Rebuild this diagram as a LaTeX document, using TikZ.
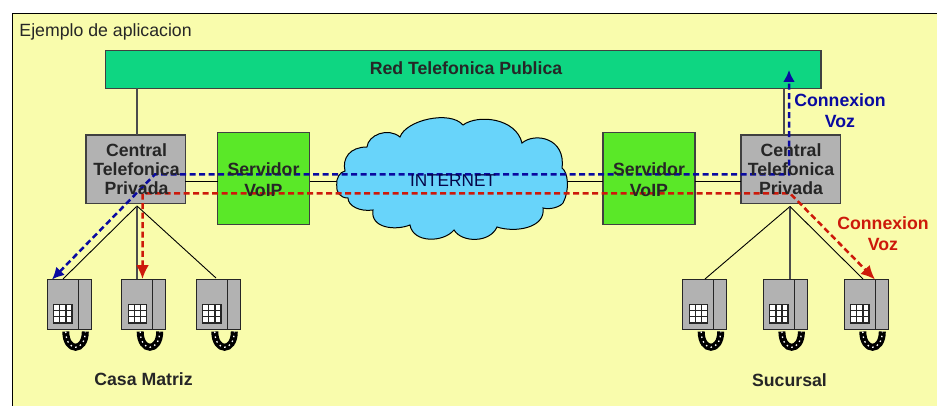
\documentclass[tikz,border=0pt]{standalone}
\usepackage{fontspec}
\setmainfont{Liberation Sans}
\usetikzlibrary{arrows.meta}
\definecolor{bgy}{RGB}{249,252,172}
\definecolor{greenbar}{RGB}{14,214,130}
\definecolor{srvgreen}{RGB}{90,232,40}
\definecolor{cloudc}{RGB}{104,212,250}
\definecolor{grayb}{RGB}{178,178,178}
\definecolor{vblue}{RGB}{10,10,160}
\definecolor{vred}{RGB}{205,25,10}
\tikzset{
  x=1pt,y=-1pt,
  every node/.style={inner sep=0pt,outer sep=0pt},
  labeltext/.style={font=\fontsize{17.7}{18.7}\selectfont\bfseries,align=center,text=black!85},
  boxstyle/.style={draw=black!75,line width=1.1pt,anchor=north west,labeltext},
  grayline/.style={draw=black!70,line width=1.2pt},
  thinline/.style={draw=black,line width=0.9pt},
  voicepath/.style={line width=2.5pt,dash pattern=on 6pt off 3.5pt},
  bluepath/.style={voicepath,draw=vblue,{Latex[length=12pt,width=12pt]}-{Latex[length=12pt,width=12pt]}},
  redpath/.style={voicepath,draw=vred,{Latex[length=14pt,width=13pt]}-{Latex[length=14pt,width=13pt]}},
  phone/.pic={
    \draw[line width=7pt,black] (18.5,52) .. controls (18.5,73) and (38,73) .. (38,52);
    \draw[white,line width=1.3pt,dash pattern=on 1.5pt off 3.5pt] (18.5,52) .. controls (18.5,73) and (38,73) .. (38,52);
    \fill[grayb,draw=black!85,line width=1pt] (0,0) rectangle (44,50);
    \draw[black!85,line width=1pt] (31,0) -- (31,50);
    \fill[black!85] (6,24.5) rectangle (25.5,44);
    \foreach \a in {0,1,2} \foreach \b in {0,1,2}
      \fill[white] ({7+\a*6.1},{25.5+\b*6.1}) rectangle ({11.8+\a*6.1},{30.3+\b*6.1});
  }
}
\begin{document}
\begin{tikzpicture}
\useasboundingbox (0,0) rectangle (937,406);
\fill[white] (0,0) rectangle (937,406);
\fill[bgy] (12,13) rectangle (937,406);
\draw[black,line width=1.1pt] (12.3,406) -- (12.3,13.5) -- (937,13.5);
\node[anchor=west,font=\fontsize{17.7}{20}\selectfont,text=black!85] (title) at (19.5,31.5) {Ejemplo de aplicacion};

\coordinate (hubL) at (137,206);
\coordinate (hubR) at (790,206.5);
\coordinate (pL1) at (63,279);
\coordinate (pL2) at (137,279);
\coordinate (pL3) at (216,278);
\coordinate (pR1) at (705,279);
\coordinate (pR2) at (790,279);
\coordinate (pR3) at (863,279);

\node[boxstyle,fill=greenbar,minimum width=715.5pt,minimum height=37.5pt] (bar) at (105.5,50.8) {};
\node[labeltext] (barlabel) at (466,68) {Red Telefonica Publica};
\node[boxstyle,fill=grayb,minimum width=99.3pt,minimum height=68.3pt] (cL) at (86,135) {};
\node[boxstyle,fill=grayb,minimum width=99.3pt,minimum height=68.3pt] (cR) at (741,135) {};
\node[boxstyle,fill=srvgreen,minimum width=92pt,minimum height=92pt] (sL) at (217.7,132.8) {};
\node[boxstyle,fill=srvgreen,minimum width=92pt,minimum height=92pt] (sR) at (603,132.8) {};

\draw[grayline] (cL.north -| 137,0) -- (bar.south -| 137,0);
\draw[grayline] (cR.north -| 784,0) -- (bar.south -| 784,0);
\draw[thinline] (cL.east |- 0,181) -- (sL.west |- 0,181);
\draw[thinline] (cR.west |- 0,181) -- (sR.east |- 0,181);
\draw[thinline] (sL.east |- 0,181) -- (340,181);
\draw[thinline] (sR.west |- 0,181) -- (565,181);

% cloud
\path[draw=black,line width=1pt,fill=cloudc] (336.7,185)
 .. controls (336,178) and (340,172) .. (345,171)
 .. controls (342,158) and (350,147) .. (367,147)
 .. controls (368,135) and (388,127) .. (400,137)
 .. controls (406,120) and (450,110) .. (463,125)
 .. controls (478,114) and (516,118) .. (522,143)
 .. controls (535,132) and (566,138) .. (562,168)
 .. controls (568,172) and (570,190) .. (563,203)
 .. controls (560,207) and (550,210) .. (543,208)
 .. controls (546,228) and (515,233) .. (497,227)
 .. controls (490,243) and (462,243) .. (454,230)
 .. controls (443,243) and (413,243) .. (410,225)
 .. controls (395,231) and (370,228) .. (373,210)
 .. controls (360,212) and (348,206) .. (348,198)
 .. controls (340,198) and (336,192) .. (336.7,185) -- cycle;

% phones
\path (47.3,279.5) pic {phone};
\path (121.7,279.5) pic {phone};
\path (196.3,279.5) pic {phone};
\path (682.7,279.5) pic {phone};
\path (763.4,279.5) pic {phone};
\path (844.3,279.5) pic {phone};

\draw[thinline] (hubL) -- (pL1);
\draw[grayline] (hubL) -- (pL2);
\draw[thinline] (hubL) -- (pL3);
\draw[thinline] (hubR) -- (pR1);
\draw[grayline] (hubR) -- (pR2);
\draw[thinline] (hubR) -- (pR3);

% voice paths
\coordinate (blueEnd) at (52,279.5);
\coordinate (blueBend) at (155,174.3);
\coordinate (blueCorner) at (789,174.3);
\coordinate (blueTop) at (789,70);
\coordinate (redEnd) at (142.5,279);
\coordinate (redBend) at (142.5,193.3);
\coordinate (redCorner) at (790,193.3);
\coordinate (redTip) at (875,279.5);
\draw[bluepath] (blueEnd) -- (blueBend) -- (blueCorner) -- (blueTop);
\draw[redpath] (redEnd) -- (redBend) -- (redCorner) -- (redTip);

\node[font=\fontsize{17.2}{19}\selectfont,text=vblue!45!black] (inet) at (453,180.5) {INTERNET};
\node[labeltext] (cLa) at (136.5,169) {Central\\Telefonica\\Privada};
\node[labeltext] (cRa) at (791,169) {Central\\Telefonica\\Privada};
\node[labeltext] (sLa) at (263.5,180) {Servidor\\[2.3pt]VoIP};
\node[labeltext] (sRa) at (649,180) {Servidor\\[2.3pt]VoIP};

\node[labeltext,text=vblue] (cvb) at (840,110.5) {Connexion\\[2pt]Voz};
\node[labeltext,text=vred] (cvr) at (883,234) {Connexion\\[2pt]Voz};
\node[labeltext] (casa) at (143.5,379) {Casa Matriz};
\node[labeltext] (suc) at (789.5,380) {Sucursal};
\end{tikzpicture}
\end{document}
